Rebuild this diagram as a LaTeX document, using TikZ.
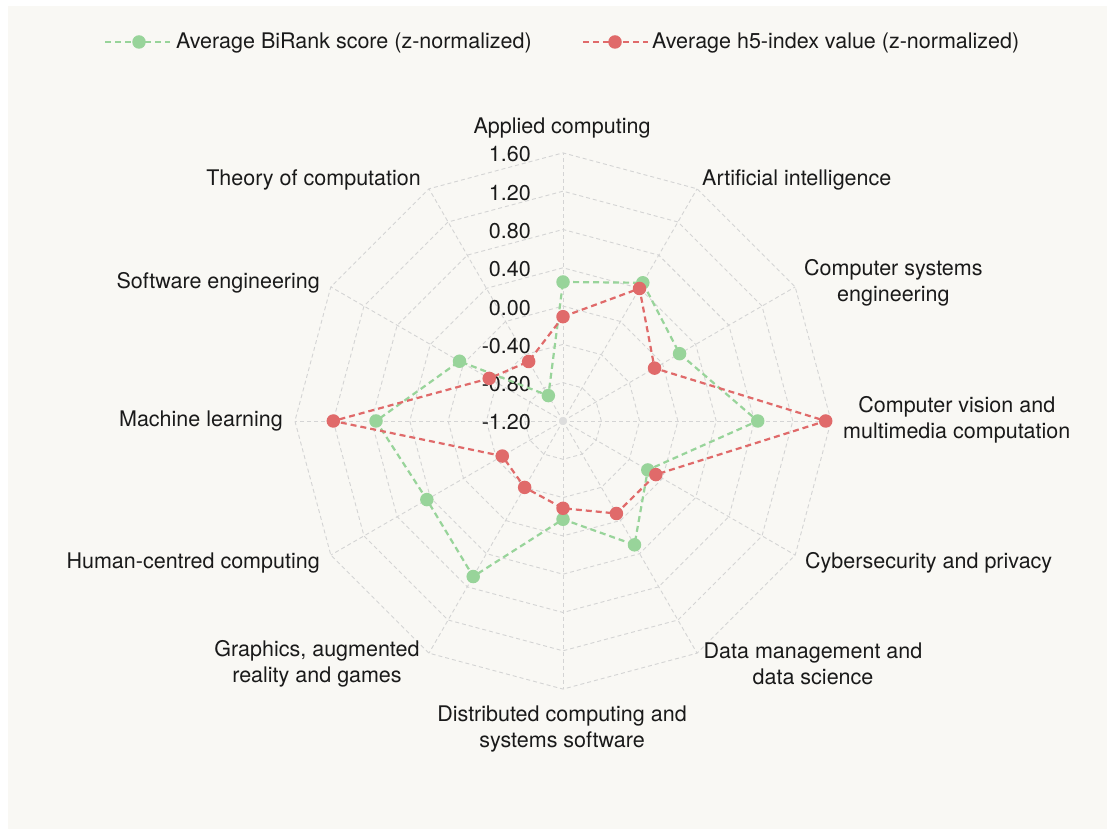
\documentclass[tikz,border=0pt]{standalone}
\usepackage{fontspec}
\setmainfont{TeX Gyre Heros}
\definecolor{bg}{HTML}{F9F8F4}
\definecolor{gridc}{HTML}{D4D4D4}
\definecolor{gline}{HTML}{98D49A}
\definecolor{rline}{HTML}{E06A6A}
\definecolor{txt}{HTML}{1A1A1A}
\tikzset{
  lbl/.style={font=\fontsize{21.5}{25.5}\selectfont, text=txt, inner sep=0pt},
  gridline/.style={draw=gridc, line width=0.9pt, dash pattern=on 4pt off 3pt},
  gser/.style={draw=gline, line width=2.2pt, dash pattern=on 6pt off 4pt},
  rser/.style={draw=rline, line width=2.2pt, dash pattern=on 6pt off 4pt},
  gdot/.style={circle, fill=gline, inner sep=0pt, minimum size=13.5pt},
  rdot/.style={circle, fill=rline, inner sep=0pt, minimum size=13.5pt},
}
\begin{document}
\begin{tikzpicture}[x=1pt,y=1pt]
\useasboundingbox (0,0) rectangle (1107,829);
\fill[white] (0,0) rectangle (1107,829);
\fill[bg] (8,0) rectangle (1107,823);

% legend
\coordinate (lg1) at (105,787); \coordinate (lg2) at (170,787);
\draw[gser] (lg1) -- (lg2);
\node[gdot] (lgd) at (139,787) {};
\node[lbl, anchor=west] (lgt) at (176,786) {Average BiRank score (z-normalized)};
\coordinate (lr1) at (583,787); \coordinate (lr2) at (648,787);
\draw[rser] (lr1) -- (lr2);
\node[rdot] (lrd) at (615,787) {};
\node[lbl, anchor=west] (lrt) at (652,786) {Average h5-index value (z-normalized)};

\begin{scope}[shift={(563,408)}]
  % grid rings
  \foreach \k in {1,...,7}{
    \draw[gridline] (0:\k*38.3) \foreach \a in {30,60,...,330}{ -- (\a:\k*38.3)} -- cycle;
  }
  % spokes
  \foreach \a in {0,30,...,330}{
    \draw[gridline] (0,0) -- (\a:268);
  }
  \node[circle, fill=gridc!80, inner sep=0pt, minimum size=8pt] (ctr) at (0,0) {};

  % tick labels
  \foreach \k/\t in {0/-1.20,1/-0.80,2/-0.40,3/0.00,4/0.40,5/0.80,6/1.20,7/1.60}{
    \node[lbl, anchor=east] (t\k) at (-32,\k*38.3-1.5) {\t};
  }

  % green series coordinates
  \coordinate (g1) at (90:139);
  \coordinate (g2) at (60:159.6);
  \coordinate (g3) at (30:134.6);
  \coordinate (g4) at (0:194.7);
  \coordinate (g5) at (-30:97.9);
  \coordinate (g6) at (-60:143);
  \coordinate (g7) at (-90:98.3);
  \coordinate (g8) at (-120:179.6);
  \coordinate (g9) at (-150:157.2);
  \coordinate (g10) at (180:187);
  \coordinate (g11) at (150:119.5);
  \coordinate (g12) at (120:29.3);
  % red series coordinates
  \coordinate (r1) at (90:104.3);
  \coordinate (r2) at (60:153);
  \coordinate (r3) at (30:105.7);
  \coordinate (r4) at (0:262.7);
  \coordinate (r5) at (-30:107.2);
  \coordinate (r6) at (-60:106.8);
  \coordinate (r7) at (-90:87.3);
  \coordinate (r8) at (-120:76.7);
  \coordinate (r9) at (-150:70.1);
  \coordinate (r10) at (180:229.7);
  \coordinate (r11) at (150:85.2);
  \coordinate (r12) at (120:68.7);

  \draw[gser] (g1) -- (g2) -- (g3) -- (g4) -- (g5) -- (g6) -- (g7) -- (g8) -- (g9) -- (g10) -- (g11) -- (g12) -- cycle;
  \foreach \i in {1,...,12}{ \node[gdot] (G\i) at (g\i) {}; }
  \draw[rser] (r1) -- (r2) -- (r3) -- (r4) -- (r5) -- (r6) -- (r7) -- (r8) -- (r9) -- (r10) -- (r11) -- (r12) -- cycle;
  \foreach \i in {1,...,12}{ \node[rdot] (R\i) at (r\i) {}; }
\end{scope}

% axis labels (absolute positions; y = 829 - pixel y)
\node[lbl] (lAC) at (562,701) {Applied computing};
\node[lbl, anchor=west] (lAI) at (702,649) {Artificial intelligence};
\node[lbl, align=center, anchor=west] (lCSE) at (804,546) {Computer systems\\engineering};
\node[lbl, align=center, anchor=west] (lCV) at (843,409) {Computer vision and\\multimedia computation};
\node[lbl, anchor=west] (lCY) at (805,266) {Cybersecurity and privacy};
\node[lbl, align=center] (lDM) at (813,165) {Data management and\\data science};
\node[lbl, align=center] (lDC) at (562,100) {Distributed computing and\\systems software};
\node[lbl, align=center] (lGR) at (317,165) {Graphics, augmented\\reality and games};
\node[lbl, anchor=east] (lHC) at (320,266) {Human-centred computing};
\node[lbl, anchor=east] (lML) at (283,408) {Machine learning};
\node[lbl, anchor=east] (lSE) at (320,546) {Software engineering};
\node[lbl, anchor=east] (lTH) at (421,649) {Theory of computation};
\end{tikzpicture}
\end{document}
